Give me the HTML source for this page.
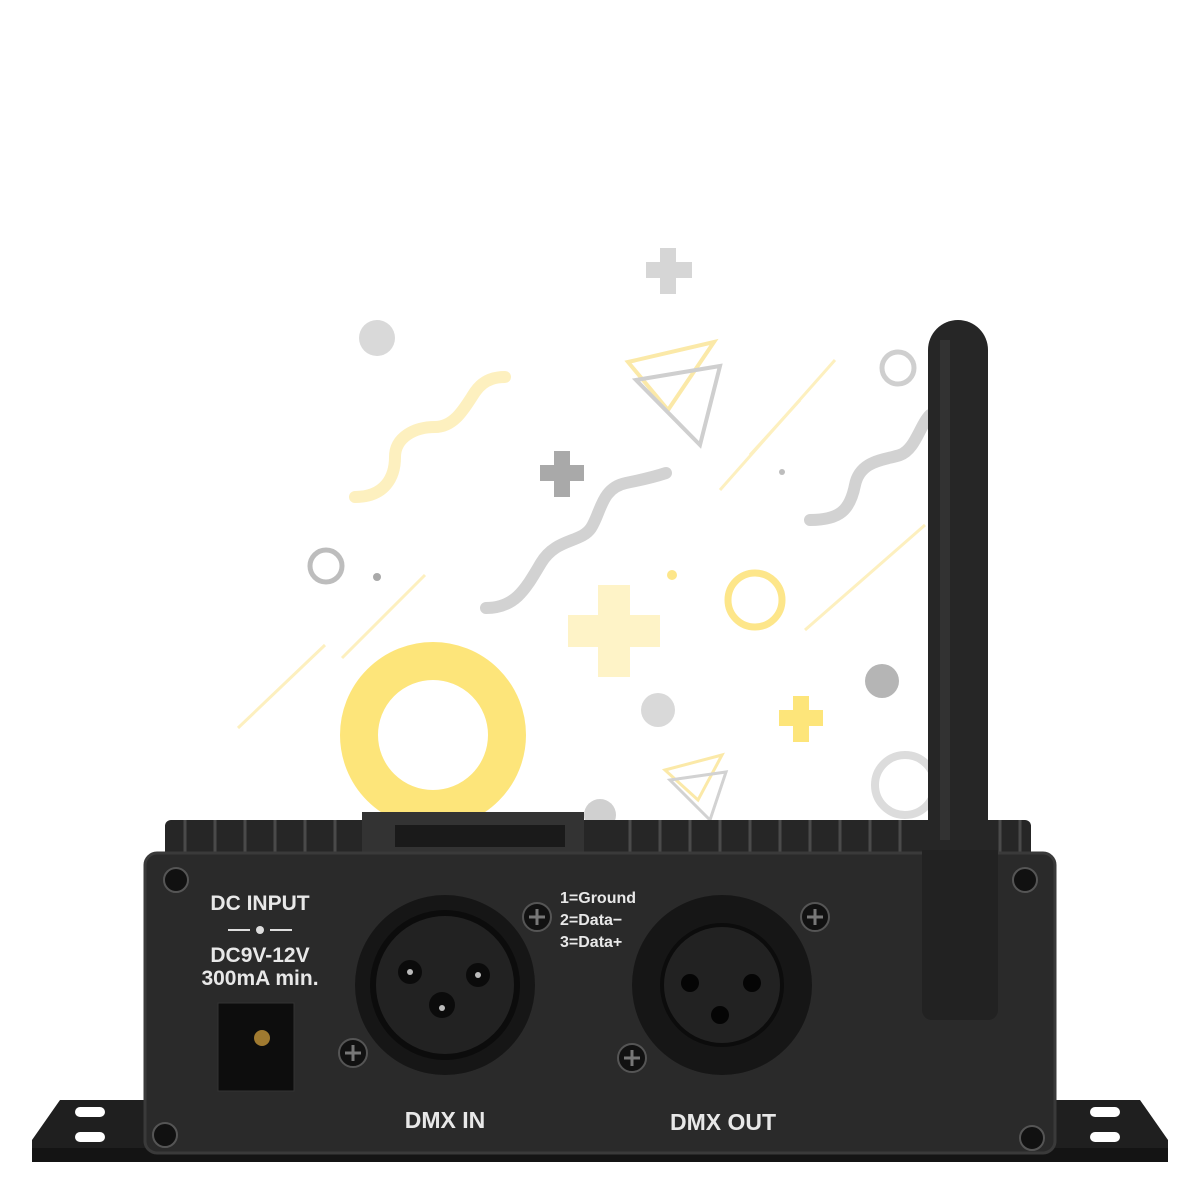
<!DOCTYPE html>
<html><head><meta charset="utf-8"><style>
html,body{margin:0;padding:0;background:#fff;width:1200px;height:1200px;overflow:hidden}
svg{display:block}
text{font-family:"Liberation Sans",sans-serif;fill:#e8e8e8;font-weight:bold}
</style></head><body>
<svg width="1200" height="1200" viewBox="0 0 1200 1200" xmlns="http://www.w3.org/2000/svg">
<rect width="1200" height="1200" fill="#fff"/>
<!-- decorations -->
<g>
<path d="M646 262h14v-14h16v14h16v16h-16v16h-16v-16h-14z" fill="#d6d6d6"/>
<circle cx="377" cy="338" r="18" fill="#d9d9d9"/>
<circle cx="898" cy="368" r="16" fill="none" stroke="#cfcfcf" stroke-width="5"/>
<polygon points="628,362 714,342 668,410" fill="none" stroke="#fbe9a8" stroke-width="4"/>
<polygon points="636,380 720,366 700,445" fill="none" stroke="#cfcfcf" stroke-width="4"/>
<path d="M355 497c30 0 40-20 40-40s20-30 40-30 30-20 40-35 25-15 30-15" fill="none" stroke="#fdf0bf" stroke-width="12" stroke-linecap="round"/>
<path d="M540 465h14v-14h16v14h14v16h-14v16h-16v-16h-14z" fill="#a9a9a9"/>
<path d="M486 608c30 0 40-20 55-45s40-20 50-35 10-40 35-45 40-10 40-10" fill="none" stroke="#d2d2d2" stroke-width="12" stroke-linecap="round"/>
<path d="M810 520c30 0 40-10 45-35s30-25 45-30 20-30 30-40" fill="none" stroke="#d2d2d2" stroke-width="12" stroke-linecap="round"/>
<line x1="720" y1="490" x2="835" y2="360" stroke="#fdf0bf" stroke-width="3"/>
<line x1="750" y1="455" x2="800" y2="400" stroke="#fdf0bf" stroke-width="3"/>
<line x1="805" y1="630" x2="925" y2="525" stroke="#fdf0bf" stroke-width="3"/>
<line x1="238" y1="728" x2="325" y2="645" stroke="#fdf0bf" stroke-width="3"/>
<line x1="342" y1="658" x2="425" y2="575" stroke="#fdf0bf" stroke-width="3"/>
<circle cx="326" cy="566" r="16" fill="none" stroke="#bdbdbd" stroke-width="5"/>
<circle cx="377" cy="577" r="4" fill="#a9a9a9"/>
<circle cx="782" cy="472" r="3" fill="#bdbdbd"/>
<circle cx="672" cy="575" r="5" fill="#fde68a"/>
<path d="M568 615h30v-30h32v30h30v32h-30v30h-32v-30h-30z" fill="#fef3c7"/>
<circle cx="755" cy="600" r="27" fill="none" stroke="#fde68a" stroke-width="7"/>
<circle cx="433" cy="735" r="74" fill="none" stroke="#fde57a" stroke-width="38"/>
<circle cx="882" cy="681" r="17" fill="#b5b5b5"/>
<circle cx="658" cy="710" r="17" fill="#d9d9d9"/>
<path d="M779 710h14v-14h16v14h14v16h-14v16h-16v-16h-14z" fill="#fde57a"/>
<polygon points="665,770 722,755 698,800" fill="none" stroke="#fbe9a8" stroke-width="3"/>
<polygon points="670,780 726,772 710,820" fill="none" stroke="#d2d2d2" stroke-width="3"/>
<circle cx="905" cy="785" r="30" fill="none" stroke="#dcdcdc" stroke-width="8"/>
<circle cx="600" cy="815" r="16" fill="#d0d0d0"/>
</g>
<!-- base plate -->
<path d="M60 1100h1080l28 40v22H32v-22z" fill="#1f1f1f"/>
<rect x="32" y="1148" width="1136" height="14" fill="#141414"/>
<g fill="#fff"><rect x="75" y="1107" width="30" height="10" rx="5"/><rect x="75" y="1132" width="30" height="10" rx="5"/><rect x="1090" y="1107" width="30" height="10" rx="5"/><rect x="1090" y="1132" width="30" height="10" rx="5"/></g>
<!-- fins -->
<g fill="#262626">
<rect x="165" y="820" width="866" height="40" rx="6"/>
</g>
<g stroke="#4a4a4a" stroke-width="3">
<path d="M185 820v35M215 820v35M245 820v35M275 820v35M305 820v35M335 820v35M630 820v35M660 820v35M690 820v35M720 820v35M750 820v35M780 820v35M810 820v35M840 820v35M870 820v35M900 820v35M1000 820v35M1020 820v35"/>
</g>
<rect x="362" y="812" width="222" height="45" fill="#333"/>
<rect x="395" y="825" width="170" height="22" fill="#1a1a1a"/>
<!-- body -->
<rect x="145" y="853" width="910" height="300" rx="12" fill="#2a2a2a"/>
<rect x="145" y="853" width="910" height="300" rx="12" fill="none" stroke="#3a3a3a" stroke-width="3"/>
<!-- screws -->
<g fill="#111" stroke="#555" stroke-width="2">
<circle cx="176" cy="880" r="12"/><circle cx="1025" cy="880" r="12"/><circle cx="165" cy="1135" r="12"/><circle cx="1032" cy="1138" r="12"/>
<circle cx="537" cy="917" r="14"/><circle cx="353" cy="1053" r="14"/><circle cx="815" cy="917" r="14"/><circle cx="632" cy="1058" r="14"/>
</g>
<g stroke="#777" stroke-width="3"><path d="M529 917h16M537 909v16M345 1053h16M353 1045v16M807 917h16M815 909v16M624 1058h16M632 1050v16"/></g>
<!-- text -->
<text x="260" y="910" font-size="21" text-anchor="middle">DC INPUT</text>
<text x="260" y="962" font-size="21" text-anchor="middle">DC9V-12V</text>
<text x="260" y="985" font-size="21" text-anchor="middle">300mA min.</text>
<path d="M228 930h22M270 930h22" stroke="#ddd" stroke-width="2"/><circle cx="260" cy="930" r="4" fill="#ddd"/>
<text x="560" y="903" font-size="16">1=Ground</text>
<text x="560" y="925" font-size="16">2=Data−</text>
<text x="560" y="947" font-size="16">3=Data+</text>
<text x="445" y="1128" font-size="23" text-anchor="middle">DMX IN</text>
<text x="723" y="1130" font-size="23" text-anchor="middle">DMX OUT</text>
<!-- DC jack -->
<rect x="218" y="1003" width="76" height="88" fill="#0d0d0d" stroke="#333"/>
<circle cx="262" cy="1038" r="8" fill="#a07a30"/>
<!-- XLR in -->
<circle cx="445" cy="985" r="90" fill="#161616"/>
<circle cx="445" cy="985" r="72" fill="#222" stroke="#0c0c0c" stroke-width="6"/>
<g fill="#0b0b0b"><circle cx="410" cy="972" r="12"/><circle cx="478" cy="975" r="12"/><circle cx="442" cy="1005" r="13"/></g>
<g fill="#bbb"><circle cx="410" cy="972" r="3"/><circle cx="478" cy="975" r="3"/><circle cx="442" cy="1008" r="3"/></g>
<!-- XLR out -->
<circle cx="722" cy="985" r="90" fill="#161616"/>
<circle cx="722" cy="985" r="60" fill="#222" stroke="#0c0c0c" stroke-width="4"/>
<g fill="#050505"><circle cx="690" cy="983" r="9"/><circle cx="752" cy="983" r="9"/><circle cx="720" cy="1015" r="9"/></g>
<!-- antenna -->
<path d="M928 350a30 30 0 0 1 60 0v500h-60z" fill="#262626"/>
<rect x="940" y="340" width="10" height="500" fill="#3a3a3a" opacity="0.6"/>
<path d="M922 850h76v160a10 10 0 0 1-10 10h-56a10 10 0 0 1-10-10z" fill="#222"/>
</svg>
</body></html>
